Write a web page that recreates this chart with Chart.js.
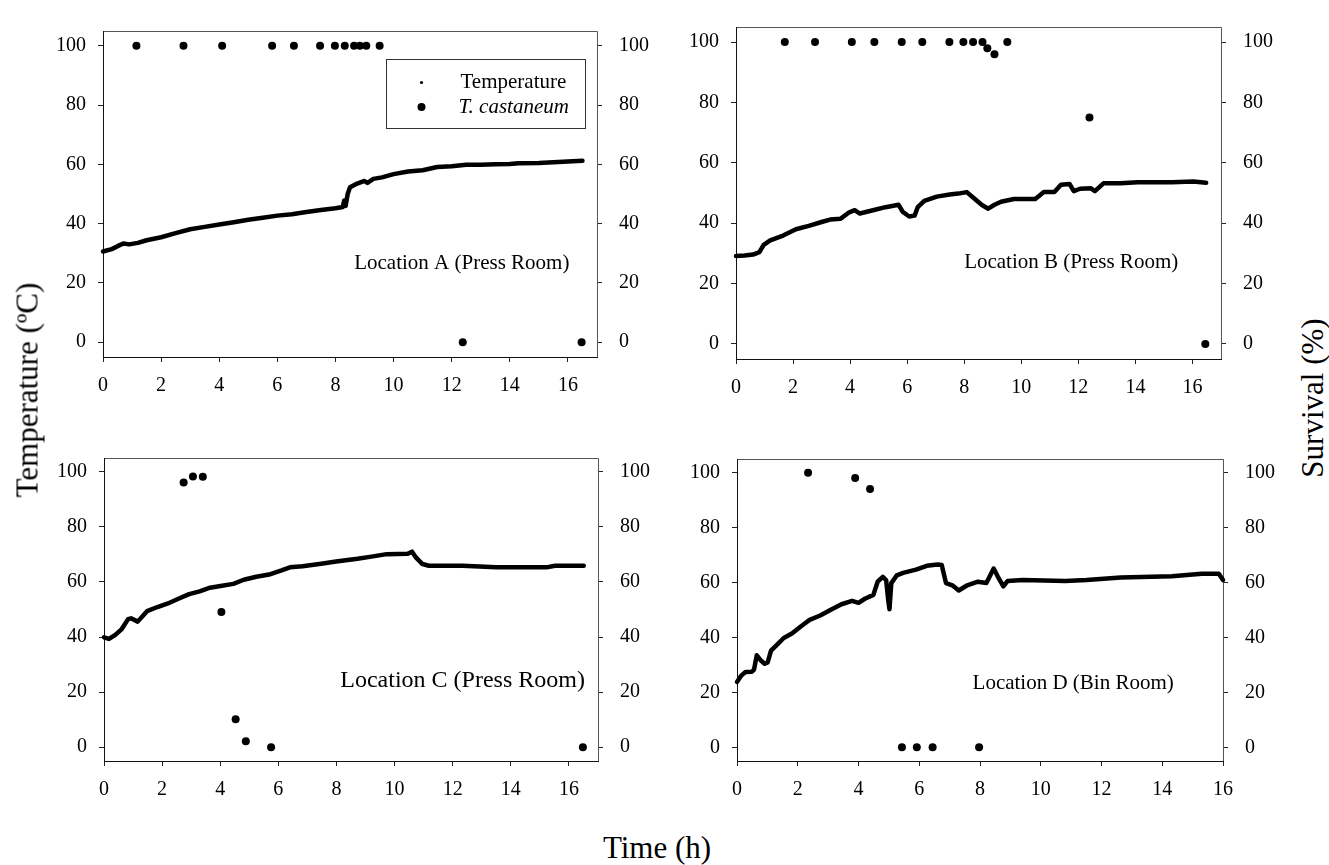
<!DOCTYPE html>
<html>
<head>
<meta charset="utf-8">
<script src="https://cdn.jsdelivr.net/npm/chart.js@4.4.1/dist/chart.umd.min.js"></script>
<style>
  body { margin:0; background:#fff; width:1329px; height:865px; position:relative; overflow:hidden;
         font-family:'Liberation Serif','Times New Roman',serif; color:#000; }
  .panel { position:absolute; }
  .title { position:absolute; font-size:31px; white-space:nowrap; line-height:1; }
  .vert { transform:translate(-50%,-50%) rotate(-90deg); }
</style>
</head>
<body>
<div class="panel" id="pA"><canvas id="cA"></canvas></div>
<div class="panel" id="pB"><canvas id="cB"></canvas></div>
<div class="panel" id="pC"><canvas id="cC"></canvas></div>
<div class="panel" id="pD"><canvas id="cD"></canvas></div>
<div class="title vert" style="left:27px;top:390px">Temperature (ºC)</div>
<div class="title vert" style="left:1312px;top:398px">Survival (%)</div>
<div class="title" style="left:657px;top:832px;transform:translateX(-50%)">Time (h)</div>
<script>
// tick labels
var xTicks = [0, 2, 4, 6, 8, 10, 12, 14, 16];
var yTicks = [0, 20, 40, 60, 80, 100];

// Location A (Press Room)
var aTempTime = [0, 0.3, 0.5, 0.7, 0.9, 1.2, 1.5, 2, 2.5, 3, 3.5, 4, 4.5, 5, 5.5, 6, 6.5, 7, 7.5, 8, 8.25, 8.3, 8.35, 8.42, 8.5, 8.7, 9, 9.1, 9.3, 9.6, 10, 10.5, 11, 11.5, 12, 12.5, 13, 13.5, 14, 14.3, 15, 15.5, 16, 16.5];
var aTempVal  = [30.6, 31.4, 32.4, 33.3, 33.0, 33.5, 34.4, 35.4, 36.8, 38.1, 38.9, 39.7, 40.5, 41.3, 42.0, 42.7, 43.2, 43.9, 44.6, 45.2, 45.6, 47.8, 46.0, 50.0, 52.3, 53.3, 54.4, 53.7, 55.1, 55.6, 56.7, 57.6, 58.0, 59.1, 59.4, 59.9, 59.9, 60.0, 60.1, 60.4, 60.5, 60.7, 61.0, 61.2];
var aSurvTime = [1.15, 2.77, 4.1, 5.82, 6.57, 7.47, 7.98, 8.32, 8.64, 8.84, 9.06, 9.52, 12.38, 16.47];
var aSurvVal  = [100, 100, 100, 100, 100, 100, 100, 100, 100, 100, 100, 100, 0, 0];

// Location B (Press Room)
var bTempTime = [0, 0.3, 0.6, 0.82, 0.97, 1.2, 1.65, 2.1, 2.55, 3.0, 3.3, 3.67, 3.97, 4.16, 4.34, 4.8, 5.24, 5.7, 5.84, 6.07, 6.26, 6.37, 6.6, 7.04, 7.49, 7.79, 8.09, 8.31, 8.61, 8.84, 9.06, 9.29, 9.74, 10.49, 10.79, 11.16, 11.39, 11.69, 11.84, 12.06, 12.43, 12.58, 12.88, 13.48, 14.08, 15.28, 16.03, 16.48];
var bTempVal  = [29.1, 29.3, 29.6, 30.4, 32.8, 34.3, 35.9, 38.0, 39.1, 40.4, 41.2, 41.5, 43.6, 44.3, 43.2, 44.3, 45.3, 46.1, 43.8, 42.2, 42.5, 45.3, 47.4, 48.8, 49.5, 49.8, 50.3, 48.5, 46.1, 44.8, 46.1, 47.1, 48.0, 48.0, 50.3, 50.3, 52.7, 53.0, 50.6, 51.4, 51.6, 50.6, 53.2, 53.2, 53.6, 53.6, 53.8, 53.4];
var bSurvTime = [1.71, 2.77, 4.06, 4.85, 5.81, 6.53, 7.48, 7.97, 8.31, 8.64, 8.81, 9.06, 9.51, 12.39, 16.45];
var bSurvVal  = [100, 100, 100, 100, 100, 100, 100, 100, 100, 100, 98, 96, 100, 75, 0];

// Location C (Press Room)
var cTempTime = [0, 0.17, 0.39, 0.61, 0.83, 0.93, 1.16, 1.48, 1.84, 2.2, 2.56, 2.93, 3.29, 3.65, 4.01, 4.45, 4.81, 5.24, 5.68, 6.11, 6.4, 6.83, 7.41, 7.99, 8.72, 9.15, 9.73, 10.45, 10.6, 10.74, 10.96, 11.18, 12.34, 13.5, 15.23, 15.52, 16.51];
var cTempVal  = [39.9, 39.3, 40.8, 42.9, 46.5, 46.8, 45.6, 49.4, 50.9, 52.2, 53.9, 55.6, 56.6, 57.9, 58.5, 59.3, 60.8, 61.9, 62.7, 64.2, 65.3, 65.7, 66.5, 67.4, 68.4, 69.1, 70.1, 70.2, 71.0, 68.8, 66.5, 65.9, 65.9, 65.3, 65.3, 65.9, 65.9];
var cSurvTime = [2.74, 3.06, 3.4, 4.04, 4.53, 4.88, 5.75, 16.48];
var cSurvVal  = [96.1, 98.3, 98.2, 49.1, 10.2, 2.2, 0, 0];

// Location D (Bin Room)
var dTempTime = [0, 0.14, 0.28, 0.49, 0.56, 0.65, 0.77, 0.91, 1.01, 1.12, 1.33, 1.54, 1.82, 2.11, 2.39, 2.74, 3.09, 3.44, 3.79, 4.0, 4.21, 4.49, 4.63, 4.8, 4.91, 4.98, 5.02, 5.08, 5.26, 5.47, 5.89, 6.25, 6.6, 6.74, 6.88, 7.09, 7.3, 7.58, 7.93, 8.21, 8.45, 8.59, 8.77, 8.91, 9.4, 10.81, 11.51, 12.63, 14.32, 15.3, 15.86, 16.0];
var dTempVal  = [23.8, 26.1, 27.4, 27.5, 28.3, 33.5, 31.8, 30.4, 30.9, 35.2, 37.5, 39.8, 41.5, 44.1, 46.4, 48.0, 50.1, 52.1, 53.3, 52.6, 54.1, 55.5, 60.3, 62.1, 60.9, 53.5, 50.3, 59.8, 62.6, 63.5, 64.7, 66.1, 66.6, 66.4, 59.8, 59.0, 57.1, 59.0, 60.3, 59.8, 65.1, 62.1, 58.6, 60.6, 60.9, 60.6, 60.9, 61.8, 62.3, 63.2, 63.2, 60.9];
var dSurvTime = [2.34, 3.89, 4.38, 5.43, 5.92, 6.44, 7.97];
var dSurvVal  = [100, 98.1, 94.1, 0, 0, 0, 0];

var AXW = 65, PADT = 10, XH = 45;
var FONT = "'Liberation Serif','Times New Roman',serif";
Chart.defaults.font.family = FONT;
Chart.defaults.font.size = 20;
Chart.defaults.color = '#000';

function pts(xs, ys) {
    return xs.map(function(x, i){ return {x: x, y: ys[i]}; });
}

// box around the plot area, SigmaPlot style
var framePlugin = {
    id: 'frame',
    beforeDatasetsDraw: function(chart) {
        var a = chart.chartArea, ctx = chart.ctx;
        ctx.save();
        ctx.lineWidth = 1;
        ctx.strokeStyle = '#555';
        ctx.beginPath();
        ctx.moveTo(a.left, a.top + 0.5); ctx.lineTo(a.right + 0.5, a.top + 0.5); ctx.lineTo(a.right + 0.5, a.bottom);
        ctx.stroke();
        ctx.strokeStyle = '#111';
        ctx.beginPath();
        ctx.moveTo(a.left + 0.5, a.top); ctx.lineTo(a.left + 0.5, a.bottom + 0.5); ctx.lineTo(a.right + 1, a.bottom + 0.5);
        ctx.stroke();
        ctx.restore();
    }
};

var notePlugin = {
    id: 'note',
    afterDatasetsDraw: function(chart, args, opts) {
        if (!opts.text) return;
        var ctx = chart.ctx;
        ctx.save();
        ctx.font = opts.size + 'px ' + FONT;
        ctx.fillStyle = '#000';
        ctx.textAlign = 'right';
        ctx.textBaseline = 'middle';
        ctx.fillText(opts.text, chart.scales.x.getPixelForValue(opts.x), chart.scales.y.getPixelForValue(opts.y));
        ctx.restore();
    }
};

var boxLegendPlugin = {
    id: 'boxLegend',
    afterDatasetsDraw: function(chart, args, opts) {
        if (!opts.show) return;
        var a = chart.chartArea, ctx = chart.ctx;
        var x = Math.round(a.left + opts.dx) + 0.5, y = Math.round(a.top + opts.dy) + 0.5;
        ctx.save();
        ctx.fillStyle = '#fff';
        ctx.fillRect(x, y, opts.w, opts.h);
        ctx.strokeStyle = '#333';
        ctx.lineWidth = 1;
        ctx.strokeRect(x, y, opts.w, opts.h);
        var ds = chart.data.datasets;
        ctx.fillStyle = '#000';
        ctx.beginPath(); ctx.arc(x + 35, y + 23, 1.6, 0, Math.PI * 2); ctx.fill();
        ctx.beginPath(); ctx.arc(x + 35, y + 47.5, ds[1].pointRadius, 0, Math.PI * 2); ctx.fill();
        ctx.textBaseline = 'middle';
        ctx.textAlign = 'left';
        ctx.font = '21px ' + FONT;
        ctx.fillText(ds[0].label, x + 74, y + 23);
        ctx.font = 'italic 21px ' + FONT;
        ctx.fillText(ds[1].label, x + 72, y + 48);
        ctx.restore();
    }
};

function axisY(pos, pad) {
    return {
        position: pos, min: -5, max: 105,
        afterBuildTicks: function(s){ s.ticks = yTicks.map(function(v){ return {value: v}; }); },
        afterFit: function(s){ s.width = AXW; },
        grid: { drawOnChartArea: false, drawTicks: true, tickLength: 5, color: '#222' },
        border: { display: false },
        ticks: { padding: pad }
    };
}

function makePanel(id, box, xMax, tx, ty, sx, sy, note, legend) {
    var wrap = document.getElementById('p' + id);
    var cv = document.getElementById('c' + id);
    var w = box.r - box.l + 2 * AXW, h = box.b - box.t + PADT + XH;
    wrap.style.left = (box.l - AXW) + 'px';
    wrap.style.top = (box.t - PADT) + 'px';
    cv.width = w; cv.height = h;
    cv.style.width = w + 'px'; cv.style.height = h + 'px';
    return new Chart(cv, {
        type: 'scatter',
        data: {
            datasets: [
                { label: 'Temperature', data: pts(tx, ty), yAxisID: 'y', showLine: true,
                  borderColor: '#000', borderWidth: 4.5, pointRadius: 0, tension: 0,
                  borderJoinStyle: 'round', borderCapStyle: 'round', clip: false },
                { label: 'T. castaneum', data: pts(sx, sy), yAxisID: 'y2', showLine: false,
                  backgroundColor: '#000', borderWidth: 0, pointRadius: 4, clip: false }
            ]
        },
        options: {
            responsive: false,
            animation: false,
            devicePixelRatio: 1,
            layout: { padding: { top: PADT, left: 0, right: 0, bottom: 0 } },
            scales: {
                x: {
                    type: 'linear', min: 0, max: xMax,
                    afterBuildTicks: function(s){ s.ticks = xTicks.map(function(v){ return {value: v}; }); },
                    afterFit: function(s){ s.height = XH; },
                    grid: { drawOnChartArea: false, drawTicks: true, tickLength: 5, color: '#222' },
                    border: { display: false },
                    ticks: { padding: 12, maxRotation: 0, autoSkip: false }
                },
                y: axisY('left', 12),
                y2: axisY('right', 17)
            },
            plugins: {
                legend: { display: false },
                tooltip: { enabled: false },
                note: note,
                boxLegend: legend || { show: false }
            }
        },
        plugins: [framePlugin, notePlugin, boxLegendPlugin]
    });
}

makePanel('A', {l: 103, r: 597, t: 12, b: 357}, 17, aTempTime, aTempVal, aSurvTime, aSurvVal,
    {text: 'Location A (Press Room)', x: 16.05, y: 26.5, size: 21},
    {show: true, dx: 282.5, dy: 27.5, w: 199, h: 69});
makePanel('B', {l: 736, r: 1221, t: 8, b: 359}, 17, bTempTime, bTempVal, bSurvTime, bSurvVal,
    {text: 'Location B (Press Room)', x: 15.5, y: 27.1, size: 21});
makePanel('C', {l: 104, r: 598, t: 439, b: 761}, 17, cTempTime, cTempVal, cSurvTime, cSurvVal,
    {text: 'Location C (Press Room)', x: 16.55, y: 24.3, size: 24});
makePanel('D', {l: 737, r: 1223, t: 440, b: 761}, 16, dTempTime, dTempVal, dSurvTime, dSurvVal,
    {text: 'Location D (Bin Room)', x: 14.38, y: 23.3, size: 21});
</script>
</body>
</html>
